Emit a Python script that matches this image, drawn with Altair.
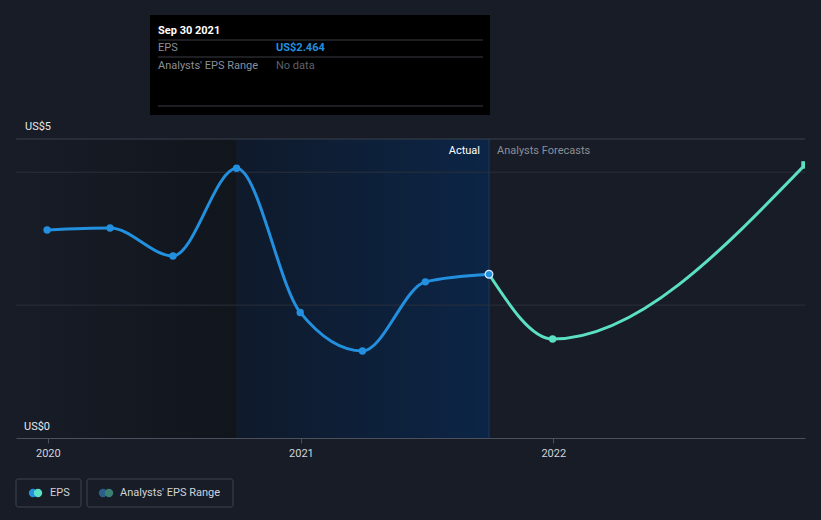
import altair as alt
import pandas as pd

# ---- data ----
actual_dates = ["2019-12-31", "2020-03-31", "2020-06-30", "2020-09-30",
                "2020-12-31", "2021-03-31", "2021-06-30", "2021-09-30"]
actual_eps = [3.13, 3.16, 2.74, 4.06, 1.89, 1.31, 2.35, 2.464]

forecast_dates = ["2021-09-30", "2021-12-31", "2022-12-31"]
forecast_eps = [2.464, 1.49, 4.11]

grid_values = [2, 4]
top_value = 4.5
y_label_text = ["US$5", "US$0"]
y_label_values = [4.5, 0]

hist_start = "2019-11-16"
past_start = "2020-09-30"
now_date = "2021-09-30"

BG = "#171c27"
BLUE = "#2390df"
TEAL = "#5ce0c4"
FONT = "Roboto"

W, H = 789, 299

actual_df = pd.DataFrame({"date": actual_dates, "eps": actual_eps})
forecast_df = pd.DataFrame({"date": forecast_dates, "eps": forecast_eps})
now_df = pd.DataFrame({"date": [now_date], "eps": [actual_eps[-1]]})

xscale = alt.Scale(type="utc",
                   domain=[alt.DateTime(year=2019, month=11, date=16, utc=True),
                           alt.DateTime(year=2022, month=12, date=31, utc=True)])
yscale = alt.Scale(domain=[0, top_value])

XAXIS = alt.Axis(values=[alt.DateTime(year=2020, month=1, date=1, utc=True),
                         alt.DateTime(year=2021, month=1, date=1, utc=True),
                         alt.DateTime(year=2022, month=1, date=1, utc=True)],
                 format="%Y", title=None, grid=False,
                 domainColor="#4a505c", tickColor="#4a505c", tickSize=5,
                 labelColor="#d0d3d8", labelFont=FONT, labelFontSize=11,
                 labelPadding=4)


def X(field="date:T"):
    return alt.X(field, scale=xscale, axis=XAXIS)


Y = alt.Y("eps:Q", scale=yscale, axis=None)

# background bands
left_band = alt.Chart(pd.DataFrame({"start": [hist_start], "end": [past_start]})).mark_rect(
    color=alt.Gradient(gradient="linear", x1=0, x2=1, y1=0, y2=0,
                       stops=[alt.GradientStop(color=BG, offset=0),
                              alt.GradientStop(color="#11151c", offset=1)])
).encode(x=X("start:T"), x2="end:T", y=alt.value(0), y2=alt.value(H))
blue_band = alt.Chart(pd.DataFrame({"start": [past_start], "end": [now_date]})).mark_rect(
    color=alt.Gradient(gradient="linear", x1=0, x2=1, y1=0, y2=0,
                       stops=[alt.GradientStop(color="#0f1a2b", offset=0),
                              alt.GradientStop(color="#0c2546", offset=1)])
).encode(x=X("start:T"), x2="end:T", y=alt.value(0), y2=alt.value(H))
now_rule = alt.Chart(now_df).mark_rule(color="#1c3a60", strokeWidth=1).encode(
    x=X(), y=alt.value(0), y2=alt.value(H))

# grid
grid = alt.Chart(pd.DataFrame({"v": grid_values})).mark_rule(color="#2a303b", strokeWidth=1).encode(
    y=alt.Y("v:Q", scale=yscale, axis=None), x=alt.value(0), x2=alt.value(W))
topline = alt.Chart(pd.DataFrame({"v": [top_value]})).mark_rule(color="#3b414d", strokeWidth=1).encode(
    y=alt.Y("v:Q", scale=yscale, axis=None), x=alt.value(0), x2=alt.value(W))

# y labels
ylab_df = pd.DataFrame({"t": y_label_text, "v": y_label_values})
ylab_top = alt.Chart(ylab_df.iloc[:1]).mark_text(
    align="left", baseline="middle", font=FONT, fontSize=11, color="#e6e8eb", dy=-12
).encode(y=alt.Y("v:Q", scale=yscale, axis=None), x=alt.value(9), text="t:N")
ylab_bot = alt.Chart(ylab_df.iloc[1:]).mark_text(
    align="left", baseline="middle", font=FONT, fontSize=11, color="#e6e8eb", dy=-11
).encode(y=alt.Y("v:Q", scale=yscale, axis=None), x=alt.value(8), text="t:N")

# lines
actual_line = alt.Chart(actual_df).mark_line(color=BLUE, strokeWidth=3, interpolate="monotone").encode(x=X(), y=Y)
actual_pts = alt.Chart(actual_df.iloc[:-1]).mark_circle(color=BLUE, size=55, opacity=1).encode(x=X(), y=Y)
fc_line = alt.Chart(forecast_df).mark_line(color=TEAL, strokeWidth=3, interpolate="monotone", clip=True).encode(x=X(), y=Y)
fc_pts = alt.Chart(forecast_df.iloc[2:]).mark_square(color=TEAL, size=55, opacity=1, clip=True).encode(x=X(), y=Y)
fc_pts2 = alt.Chart(forecast_df.iloc[1:2]).mark_circle(color=TEAL, size=55, opacity=1).encode(x=X(), y=Y)
now_pt = alt.Chart(now_df).mark_circle(color=BLUE, size=60, opacity=1, stroke="#d8ecff", strokeWidth=1.2).encode(x=X(), y=Y)

actual_txt = alt.Chart(now_df).mark_text(align="right", baseline="middle", dx=-9, font=FONT,
                                         fontSize=11, color="#ffffff").encode(
    x=X(), y=alt.value(12), text=alt.value("Actual"))
fc_txt = alt.Chart(now_df).mark_text(align="left", baseline="middle", dx=8, font=FONT,
                                     fontSize=11, color="#8a8f98").encode(
    x=X(), y=alt.value(12), text=alt.value("Analysts Forecasts"))

# tooltip box (decoration)
tip_box = alt.Chart(now_df).mark_rect(color="#000000").encode(
    x=alt.value(134), x2=alt.value(474), y=alt.value(-124), y2=alt.value(-24))
tip_lines = alt.Chart(pd.DataFrame({"yy": [-99, -82, -33]})).mark_rule(color="#3a3d42").encode(
    x=alt.value(142), x2=alt.value(467), y=alt.Y("yy:Q", scale=None))
tip_title = alt.Chart(now_df).mark_text(align="left", baseline="middle", font=FONT, fontSize=11,
                                        fontWeight="bold", color="#ffffff").encode(
    x=alt.value(142), y=alt.value(-108), text=alt.value("Sep 30 2021"))
tip_rows = pd.DataFrame({"label": ["EPS", "Analysts' EPS Range"],
                         "val": ["US$" + f"{actual_eps[-1]:.3f}", "No data"],
                         "yy": [-91, -73]})
tip_lab = alt.Chart(tip_rows).mark_text(align="left", baseline="middle", font=FONT, fontSize=11,
                                        color="#8a8f98").encode(
    x=alt.value(142), y=alt.Y("yy:Q", scale=None), text="label:N")
tip_val1 = alt.Chart(tip_rows.iloc[:1]).mark_text(align="left", baseline="middle", font=FONT, fontSize=11,
                                                  fontWeight="bold", color=BLUE).encode(
    x=alt.value(260), y=alt.Y("yy:Q", scale=None), text="val:N")
tip_val2 = alt.Chart(tip_rows.iloc[1:]).mark_text(align="left", baseline="middle", font=FONT, fontSize=11,
                                                  color="#5d6068").encode(
    x=alt.value(260), y=alt.Y("yy:Q", scale=None), text="val:N")

# legend boxes (decoration)
leg_box = alt.Chart(pd.DataFrame({"x0": [0, 71], "x1": [65, 217]})).mark_rect(
    fill=BG, stroke="#3e4450", strokeWidth=1, cornerRadius=2).encode(
    x=alt.X("x0:Q", scale=None), x2="x1:Q", y=alt.value(340), y2=alt.value(368))
leg_dots = alt.Chart(pd.DataFrame({"xx": [17, 22, 87, 93],
                                   "c": [BLUE, TEAL, "#2a5f8a", "#3a7f74"]})).mark_circle(
    size=70, opacity=1).encode(x=alt.X("xx:Q", scale=None), y=alt.value(354),
                               color=alt.Color("c:N", scale=None))
leg_txt = alt.Chart(pd.DataFrame({"xx": [34, 104], "t": ["EPS", "Analysts' EPS Range"]})).mark_text(
    align="left", baseline="middle", font=FONT, fontSize=11, color="#d0d3d8").encode(
    x=alt.X("xx:Q", scale=None), y=alt.value(354), text="t:N")

chart = alt.layer(
    left_band, blue_band, now_rule, grid, topline, ylab_top, ylab_bot,
    actual_line, fc_line, actual_pts, fc_pts, fc_pts2, now_pt, actual_txt, fc_txt,
    tip_box, tip_lines, tip_title, tip_lab, tip_val1, tip_val2,
    leg_box, leg_dots, leg_txt
).properties(
    width=W, height=H,
    autosize=alt.AutoSizeParams(type="none"),
    padding={"left": 16, "top": 139, "right": 16, "bottom": 82},
    background=BG,
).configure_view(strokeWidth=0)

chart.save("out.html", embed_options={"renderer": "svg", "actions": False})
